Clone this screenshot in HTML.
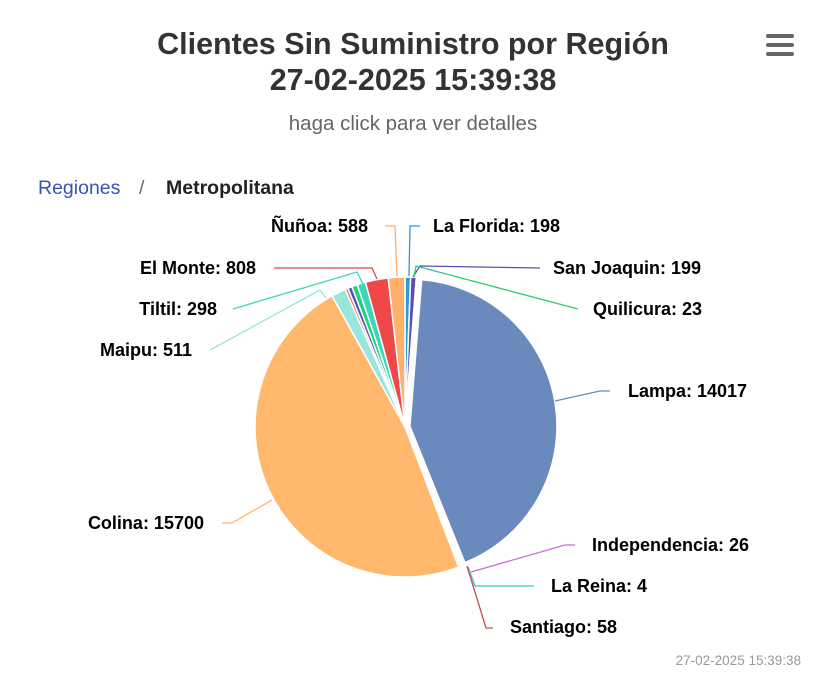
<!DOCTYPE html>
<html><head><meta charset="utf-8"><style>
body{margin:0;background:#fff;width:832px;height:694px;overflow:hidden;font-family:"Liberation Sans",sans-serif}
</style></head><body>
<svg id="s" width="832" height="694" xmlns="http://www.w3.org/2000/svg" font-family="Liberation Sans, sans-serif">
<rect width="832" height="694" fill="#fff"/>
<text x="413" y="54" text-anchor="middle" font-size="30.5" font-weight="bold" fill="#333">Clientes Sin Suministro por Región</text>
<text x="413" y="90" text-anchor="middle" font-size="30.5" font-weight="bold" fill="#333">27-02-2025 15:39:38</text>
<text x="413" y="130" text-anchor="middle" font-size="20.5" fill="#666">haga click para ver detalles</text>
<g fill="#666"><rect x="766" y="34" width="28" height="4" rx="2"/><rect x="766" y="43" width="28" height="4" rx="2"/><rect x="766" y="52" width="28" height="4" rx="2"/></g>
<text x="38" y="194" font-size="19.5" fill="#3355bb">Regiones</text>
<text x="139" y="194" font-size="19.5" fill="#666">/</text>
<text x="166" y="194" font-size="19.5" font-weight="bold" fill="#222">Metropolitana</text>
<g id="pie"></g>
<g fill="none" stroke-width="1.3">
<polyline points="385,226 395,226 397,276" stroke="#ffb06a"/>
<polyline points="420,226 410,226 409,276" stroke="#2b9bd8"/>
<polyline points="274,268 372,268 377,279" stroke="#e04848"/>
<polyline points="540,268 420,266 413,277" stroke="#5a4fb0"/>
<polyline points="233,309 357,272 363,284" stroke="#3dd6b8"/>
<polyline points="578,309 416,266 414,277" stroke="#2ecc71"/>
<polyline points="210,350 320,290 326,298" stroke="#99e6de"/>
<polyline points="610,391 600,391 555,401" stroke="#6a8abd"/>
<polyline points="222,523 232,523 272,500" stroke="#ffb86c"/>
<polyline points="575,545 565,545 471,572" stroke="#c86dd7"/>
<polyline points="534,586 524,586 475,586 468,567" stroke="#3cc"/>
<polyline points="493,628 486,628 467,566" stroke="#c0504d"/>
</g>
<g font-size="18" font-weight="bold" fill="#000">
<text x="368" y="232" text-anchor="end">Ñuñoa: 588</text>
<text x="433" y="232">La Florida: 198</text>
<text x="256" y="274" text-anchor="end">El Monte: 808</text>
<text x="553" y="274">San Joaquin: 199</text>
<text x="217" y="315" text-anchor="end">Tiltil: 298</text>
<text x="593" y="315">Quilicura: 23</text>
<text x="192" y="356" text-anchor="end">Maipu: 511</text>
<text x="628" y="397">Lampa: 14017</text>
<text x="204" y="529" text-anchor="end">Colina: 15700</text>
<text x="592" y="551">Independencia: 26</text>
<text x="551" y="592">La Reina: 4</text>
<text x="510" y="633">Santiago: 58</text>
</g>
<text x="801" y="665" text-anchor="end" font-size="13.5" fill="#999">27-02-2025 15:39:38</text>
</svg>
<script>
var d=[[198,"#2b9bd8"],[199,"#5a4fb0"],[23,"#2ecc71"],[14017,"#6a8abd",1],[26,"#c86dd7"],[4,"#3cc"],[58,"#c0504d"],[15700,"#ffb86c"],[511,"#99e6de"],[100,"#d9744a"],[150,"#5050b8"],[200,"#1ed47a"],[298,"#3dd6b8"],[808,"#f04848"],[588,"#ffb06a"]];
var t=0;d.forEach(function(e){t+=e[0]});
var cx=405,cy=427,r=150,a=-Math.PI/2,g=document.getElementById("pie"),h="";
d.forEach(function(e){var b=a+e[0]/t*2*Math.PI,m=(a+b)/2,ox=0,oy=0,rr=r;
if(e[2]){ox=5*Math.cos(m);oy=5*Math.sin(m);rr=147;}
var x1=cx+ox+rr*Math.cos(a),y1=cy+oy+rr*Math.sin(a),x2=cx+ox+rr*Math.cos(b),y2=cy+oy+rr*Math.sin(b);
h+='<path d="M'+(cx+ox)+','+(cy+oy)+'L'+x1+','+y1+'A'+rr+','+rr+' 0 '+((b-a)>Math.PI?1:0)+' 1 '+x2+','+y2+'Z" fill="'+e[1]+'" stroke="#fff" stroke-width="1.5" stroke-linejoin="round"/>';a=b;});
g.innerHTML=h;
</script>
</body></html>
